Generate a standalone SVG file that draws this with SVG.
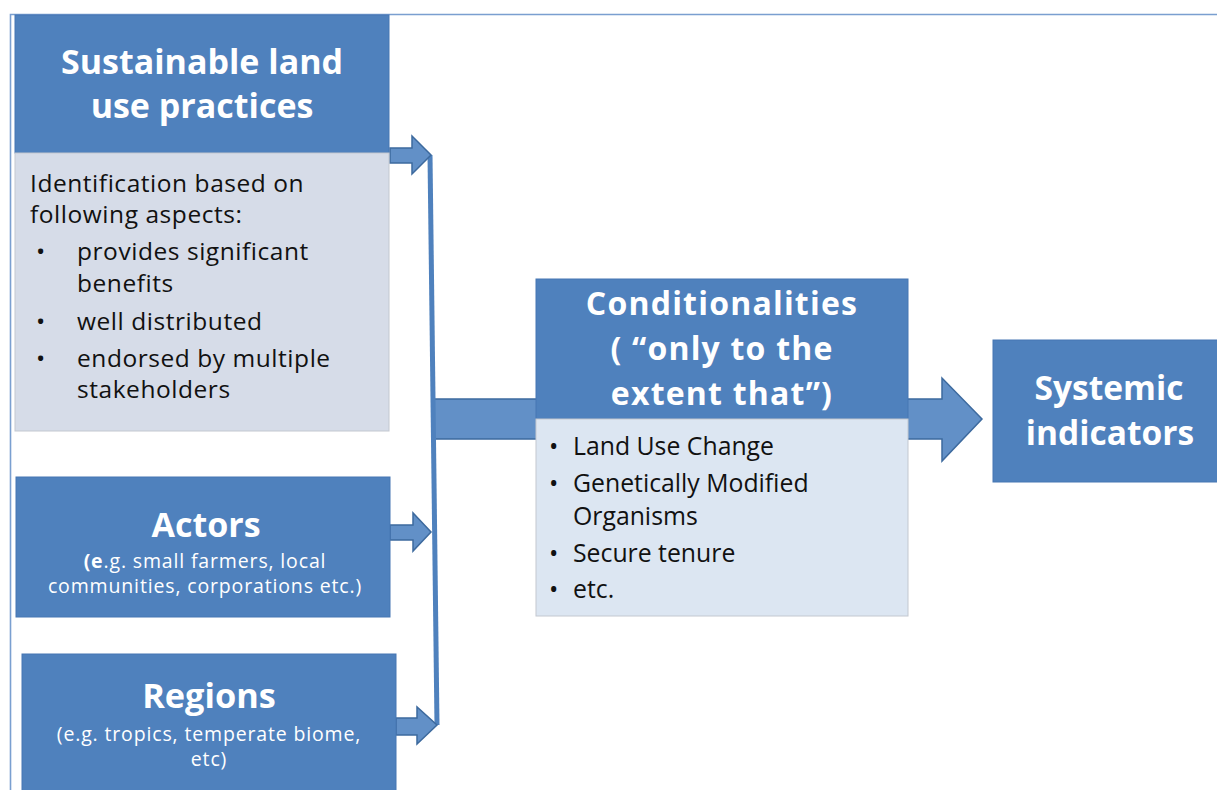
<svg xmlns="http://www.w3.org/2000/svg" width="1217" height="790" viewBox="0 0 1217 790">
<style>
.hdr{fill:#4f81bd;stroke:#4677b3;stroke-width:1}
.body1{fill:#d6dce8;stroke:#c3c8d0;stroke-width:1}
.body2{fill:#dce6f2;stroke:#c3c8d0;stroke-width:1}
.arr{fill:#6290c7;stroke:#3d6a9e;stroke-width:1.5;stroke-linejoin:miter}
.vline{fill:none;stroke:#4f81bd;stroke-width:5}
.ttl{font-family:"Open Sans","Liberation Sans",sans-serif;font-weight:bold;fill:#ffffff;text-anchor:middle}
.sub{font-family:"Open Sans","Liberation Sans",sans-serif;fill:#ffffff;text-anchor:middle;font-size:19.5px;letter-spacing:0.85px}
.txt{font-family:"Open Sans","Liberation Sans",sans-serif;fill:#111111}
</style>
<rect x="0" y="0" width="1217" height="790" fill="#ffffff"/>
<path d="M10.5,790 V14.5 H1217" fill="none" stroke="#7a9fd0" stroke-width="1.6"/>

<g id="connectors">
  <polygon class="arr" points="433,399 942,399 942,378 982,419 942,461 942,439 433,439"/>
  <line class="vline" x1="430" y1="155" x2="437" y2="725"/>
  <polygon class="arr" points="390,148 412,148 412,136 431,155 412,174 412,163 390,163"/>
  <polygon class="arr" points="390,525 413,525 413,513 431,532 413,551 413,540 390,540"/>
  <polygon class="arr" points="396,718 417,718 417,707 437,725 417,744 417,735 396,735"/>
</g>

<g id="sustainable">
  <rect class="hdr" x="15" y="15" width="374" height="138"/>
  <rect class="body1" x="15" y="153" width="374" height="278"/>
  <text class="ttl" x="202" y="74" font-size="34">Sustainable land</text>
  <text class="ttl" x="202" y="118" font-size="34">use practices</text>
  <g class="txt" font-size="24.5" letter-spacing="0.55">
    <text x="30" y="192">Identification based on</text>
    <text x="30" y="223">following aspects:</text>
    <text x="36" y="260">•</text><text x="77" y="260">provides significant</text>
    <text x="77" y="292">benefits</text>
    <text x="36" y="330">•</text><text x="77" y="330">well distributed</text>
    <text x="36" y="367">•</text><text x="77" y="367">endorsed by multiple</text>
    <text x="77" y="398">stakeholders</text>
  </g>
</g>

<g id="actors">
  <rect class="hdr" x="16" y="477" width="374" height="140"/>
  <text class="ttl" x="206" y="537" font-size="34">Actors</text>
  <text class="sub" x="205" y="568"><tspan font-weight="bold">(e</tspan>.g. small farmers, local</text>
  <text class="sub" x="205" y="593">communities, corporations etc.)</text>
</g>

<g id="regions">
  <rect class="hdr" x="22" y="654" width="374" height="150"/>
  <text class="ttl" x="209" y="708" font-size="34.3">Regions</text>
  <text class="sub" x="209" y="741">(e.g. tropics, temperate biome,</text>
  <text class="sub" x="209" y="766">etc)</text>
</g>

<g id="conditionalities">
  <rect class="hdr" x="536" y="279" width="372" height="140"/>
  <rect class="body2" x="536" y="419" width="372" height="197"/>
  <g class="ttl" font-size="32" letter-spacing="1.2">
    <text x="722" y="315">Conditionalities</text>
    <text x="722" y="360">( “only to the</text>
    <text x="722" y="405">extent that”)</text>
  </g>
  <g class="txt" font-size="24.8">
    <text x="549" y="455">•</text><text x="573" y="455">Land Use Change</text>
    <text x="549" y="492">•</text><text x="573" y="492">Genetically Modified</text>
    <text x="573" y="525">Organisms</text>
    <text x="549" y="562">•</text><text x="573" y="562">Secure tenure</text>
    <text x="549" y="598">•</text><text x="573" y="598">etc.</text>
  </g>
</g>

<g id="systemic">
  <rect class="hdr" x="993" y="340" width="230" height="142"/>
  <text class="ttl" x="1109" y="400" font-size="33.5">Systemic</text>
  <text class="ttl" x="1110" y="445" font-size="33.5">indicators</text>
</g>
</svg>
